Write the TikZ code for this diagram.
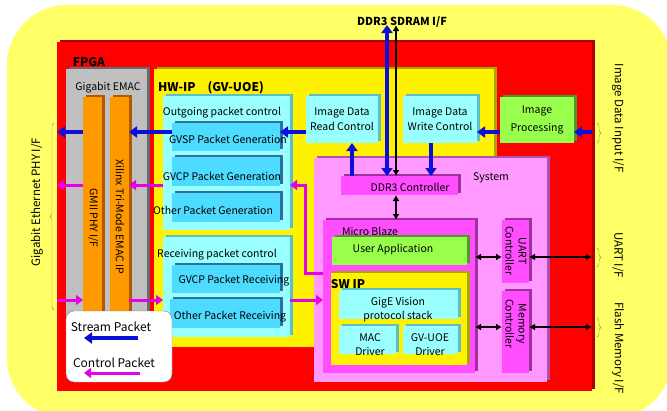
\documentclass[tikz,border=0pt]{standalone}
\usepackage{fontspec}
\setmainfont{Noto Sans CJK JP}
\usetikzlibrary{arrows.meta,positioning,shadows,decorations.pathreplacing}
\definecolor{paleyel}{HTML}{FFFF66}
\definecolor{fpgashd}{HTML}{B00000}
\definecolor{emacgray}{HTML}{C0C0C0}
\definecolor{emacshd}{HTML}{6A6A6A}
\definecolor{ipor}{HTML}{FF9900}
\definecolor{iporshd}{HTML}{B35900}
\definecolor{hwshd}{HTML}{A8A800}
\definecolor{pktcyan}{HTML}{99FFFF}
\definecolor{pktshd}{HTML}{5CBFC8}
\definecolor{gencyan}{HTML}{4DDBFF}
\definecolor{genshd}{HTML}{2E6FA0}
\definecolor{procgrn}{HTML}{99FF4D}
\definecolor{procshd}{HTML}{4D9926}
\definecolor{syspink}{HTML}{FF99FF}
\definecolor{sysshd}{HTML}{B050B0}
\definecolor{ctlmag}{HTML}{FF4DFF}
\definecolor{ctlshd}{HTML}{A030A0}
\definecolor{strmblue}{HTML}{0A10D8}
\definecolor{ctrlmag}{HTML}{E600E6}
\definecolor{bracegray}{HTML}{A09060}

\begin{document}
\begin{tikzpicture}[x=1pt,y=-1pt,
  box/.style={rectangle,inner sep=0pt,outer sep=0pt,anchor=north west},
  deep/.style={drop shadow={shadow xshift=2.5pt,shadow yshift=2.5pt,fill=#1,opacity=1}},
  lbl/.style={inner sep=0pt,align=center,font=\fontsize{10.5}{14}\selectfont},
  outlbl/.style={inner sep=0pt,align=center,font=\fontsize{11.5}{14}\selectfont},
  hdr/.style={inner sep=0pt,font=\fontsize{12}{14}\selectfont\bfseries},
  strm/.style={draw=strmblue,line width=4pt,-{Triangle[length=8pt,width=11pt]}},
  ctrl/.style={draw=ctrlmag,line width=3pt,-{Triangle[length=7pt,width=10pt]}},
  bus/.style={draw=black,line width=2pt,{Latex[length=6pt,width=7pt]}-{Latex[length=6pt,width=7pt]}},
  ifbrace/.style={draw=bracegray,thin,decorate,decoration={brace,amplitude=4pt}},
]
\useasboundingbox (0,0) rectangle (667,410);
\clip (0,0) rectangle (667,410);
\node[box,fill=paleyel,rounded corners=60pt,minimum width=665pt,minimum height=413pt] (board) at (7,5) {};

% FPGA and EMAC
\node[box,fill=red,deep=fpgashd,minimum width=535pt,minimum height=349pt] (fpga) at (57,42) {};
\node[hdr] (fpgalbl) at (89,62) {FPGA};
\node[box,fill=emacgray,deep=emacshd,minimum width=81pt,minimum height=271pt] (emacblk) at (66,69) {};
\node[lbl] (emaclbl) at (108,88) {Gigabit EMAC};
\node[box,fill=ipor,deep=iporshd,minimum width=19pt,minimum height=243pt] (gmii) at (83,97) {};
\node[box,fill=ipor,deep=iporshd,minimum width=19pt,minimum height=243pt] (emac) at (110,97) {};
\node[lbl,rotate=-90] (gmiilbl) at (93,218) {GMII PHY I/F};
\node[lbl,rotate=-90] (emaciplbl) at (120,217) {Xilinx Tri-Mode EMAC IP};

% HW-IP
\node[box,fill=yellow,deep=hwshd,minimum width=340pt,minimum height=278pt] (hwip) at (154,69) {};
\node[hdr] (hwlbl) at (211,88) {HW-IP　(GV-UOE)};
\node[box,fill=pktcyan,deep=pktshd,minimum width=127pt,minimum height=134pt] (outgo) at (163,96) {};
\node[lbl] (outgolbl) at (222,113) {Outgoing packet control};
\node[box,fill=gencyan,deep=genshd,minimum width=108pt,minimum height=28pt] (gvsp) at (172,123) {};
\node[box,fill=gencyan,deep=genshd,minimum width=108pt,minimum height=29pt] (gvcpg) at (172,157) {};
\node[box,fill=gencyan,deep=genshd,minimum width=108pt,minimum height=29pt] (othg) at (172,193) {};
\node[lbl] (gvsplbl) at (228,139) {GVSP Packet Generation};
\node[lbl] (gvcpglbl) at (222,176) {GVCP Packet Generation};
\node[lbl] (othglbl) at (213,210) {Other Packet Generation};
\node[box,fill=pktcyan,deep=pktshd,minimum width=127pt,minimum height=100pt] (recv) at (163,237) {};
\node[lbl] (recvlbl) at (217,255) {Receiving packet control};
\node[box,fill=gencyan,deep=genshd,minimum width=108pt,minimum height=28pt] (gvcpr) at (172,265) {};
\node[box,fill=gencyan,deep=genshd,minimum width=110pt,minimum height=29pt] (othr) at (170,299) {};
\node[lbl] (gvcprlbl) at (234,281) {GVCP Packet Receiving};
\node[lbl] (othrlbl) at (230,317) {Other Packet Receiving};
\node[box,fill=pktcyan,deep=pktshd,minimum width=72pt,minimum height=47pt,align=center,font=\fontsize{10.5}{15}\selectfont] (rdctl) at (306,96) {Image Data\\Read Control};
\node[box,fill=pktcyan,deep=pktshd,minimum width=74pt,minimum height=47pt,align=center,font=\fontsize{10.5}{15}\selectfont] (wrctl) at (403,96) {Image Data\\Write Control};
\node[box,fill=procgrn,deep=procshd,minimum width=74pt,minimum height=46pt,align=center,font=\fontsize{10.5}{18}\selectfont] (imgp) at (500,97) {Image\\Processing};

% system
\node[box,fill=syspink,deep=sysshd,minimum width=233pt,minimum height=224pt] (sys) at (314,158) {};
\node[lbl] (syslbl) at (491,178) {System};
\node[box,fill=ctlmag,deep=ctlshd,minimum width=117pt,minimum height=19pt] (ddr) at (341,176) {};
\node[lbl] (ddrlbl) at (410,187) {DDR3 Controller};
\node[box,fill=ctlmag,deep=ctlshd,minimum width=152pt,minimum height=153pt] (mblaze) at (323,220) {};
\node[lbl] (mblbl) at (370,231) {Micro Blaze};
\node[box,fill=procgrn,deep=procshd,minimum width=135pt,minimum height=28pt] (uapp) at (332,237) {};
\node[lbl] (uapplbl) at (393,250) {User Application};
\node[box,fill=yellow,deep=hwshd,minimum width=136pt,minimum height=92pt] (swip) at (331,273) {};
\node[hdr] (swlbl) at (348,284) {SW IP};
\node[box,fill=pktcyan,deep=pktshd,minimum width=119pt,minimum height=29pt] (gige) at (339,290) {};
\node[lbl] (gigelbl) at (398,310) {GigE Vision\\protocol stack};
\node[box,fill=pktcyan,deep=pktshd,minimum width=57pt,minimum height=28pt] (macdrv) at (339,326) {};
\node[box,fill=pktcyan,deep=pktshd,minimum width=55pt,minimum height=28pt] (uoedrv) at (403,326) {};
\node[lbl] (macdrvlbl) at (370,345) {MAC\\Driver};
\node[lbl] (uoedrvlbl) at (430,345) {GV-UOE\\Driver};
\node[box,fill=ctlmag,deep=ctlshd,minimum width=27pt,minimum height=63pt] (uart) at (502,220) {};
\node[box,fill=ctlmag,deep=ctlshd,minimum width=27pt,minimum height=82pt] (mem) at (502,291) {};
\node[lbl,rotate=-90,font=\fontsize{10.5}{13}\selectfont] (uartlbl) at (516,251) {UART\\Controller};
\node[lbl,rotate=-90,font=\fontsize{10.5}{13}\selectfont] (memlbl) at (516,324) {Memory\\Controller};

% rows and columns for the buses
\coordinate (rowS) at (0,132);
\coordinate (rowC) at (0,185);
\coordinate (rowR) at (0,300);
\coordinate (rowU) at (0,257);
\coordinate (rowM) at (0,327);
\coordinate (colA) at (352,0);
\coordinate (colB) at (431,0);
\coordinate (colD) at (387,0);
\coordinate (colK) at (396,0);
\coordinate (sdram) at (391,25);

% stream packets
\draw[strm] (rdctl.west |- rowS) -- (gvsp.east |- rowS);
\draw[strm] (gvsp.west |- rowS) -- (emac.east |- rowS);
\draw[strm] (gmii.west |- rowS) -- (fpga.west |- rowS);
\draw[strm] (imgp.west |- rowS) -- (wrctl.east |- rowS);
\draw[strm] (fpga.east |- rowS) -- (imgp.east |- rowS);
\draw[strm] (ddr.north -| colA) -- (rdctl.south -| colA);
\draw[strm] (wrctl.south -| colB) -- (ddr.north -| colB);
\draw[strm,{Triangle[length=8pt,width=11pt]}-{Triangle[length=8pt,width=11pt]}] (ddr.north -| colD) -- (sdram -| colD);
\draw[bus] (ddr.north -| colK) -- (sdram -| colK);

% control packets
\draw[ctrl] (outgo.west |- rowC) -- (emac.east |- rowC);
\draw[ctrl] (gmii.west |- rowC) -- (fpga.west |- rowC);
\draw[ctrl] (mblaze.west |- swip.north) -- ++(-18,0) |- (outgo.east |- rowC);
\draw[ctrl] (fpga.west |- rowR) -- (gmii.west |- rowR);
\draw[ctrl] (emac.east |- rowR) -- (recv.west |- rowR);
\draw[ctrl] (recv.east |- rowR) -- (mblaze.west |- rowR);

% cpu side buses
\draw[bus] (ddr.south -| colK) -- (mblaze.north -| colK);
\draw[bus] (mblaze.east |- rowU) -- (uart.west |- rowU);
\draw[bus] (uart.east |- rowU) -- (fpga.east |- rowU);
\draw[bus] (mblaze.east |- rowM) -- (mem.west |- rowM);
\draw[bus] (mem.east |- rowM) -- (fpga.east |- rowM);

% outside interfaces
\node[inner sep=0pt,font=\fontsize{11}{12}\selectfont\bfseries] (sdramlbl) at (402,22) {DDR3 SDRAM I/F};
\draw[ifbrace] (597,123) -- (597,143);
\draw[ifbrace] (597,248) -- (597,267);
\draw[ifbrace] (597,318) -- (597,337);
\draw[ifbrace] (54,310) -- (54,123);
\node[outlbl,rotate=-90] (imginlbl) at (618,118) {Image Data Input I/F};
\node[outlbl,rotate=-90] (uartiflbl) at (618,255) {UART I/F};
\node[outlbl,rotate=-90] (flashlbl) at (618,348) {Flash Memory I/F};
\node[outlbl,rotate=90] (phylbl) at (37,202) {Gigabit Ethernet PHY I/F};

% legend
\node[box,fill=white,draw=gray,rounded corners=8pt,minimum width=106pt,minimum height=71pt] (legend) at (66,311) {};
\node[lbl,font=\fontsize{12}{13}\selectfont] (lgslbl) at (111,327) {Stream Packet};
\node[lbl,font=\fontsize{12}{13}\selectfont] (lgclbl) at (114,363) {Control Packet};
\coordinate (lgs1) at (138,338);
\coordinate (lgs2) at (84,338);
\coordinate (lgc1) at (140,373);
\coordinate (lgc2) at (84,373);
\draw[strm] (lgs1) -- (lgs2);
\draw[ctrl] (lgc1) -- (lgc2);
\end{tikzpicture}
\end{document}
